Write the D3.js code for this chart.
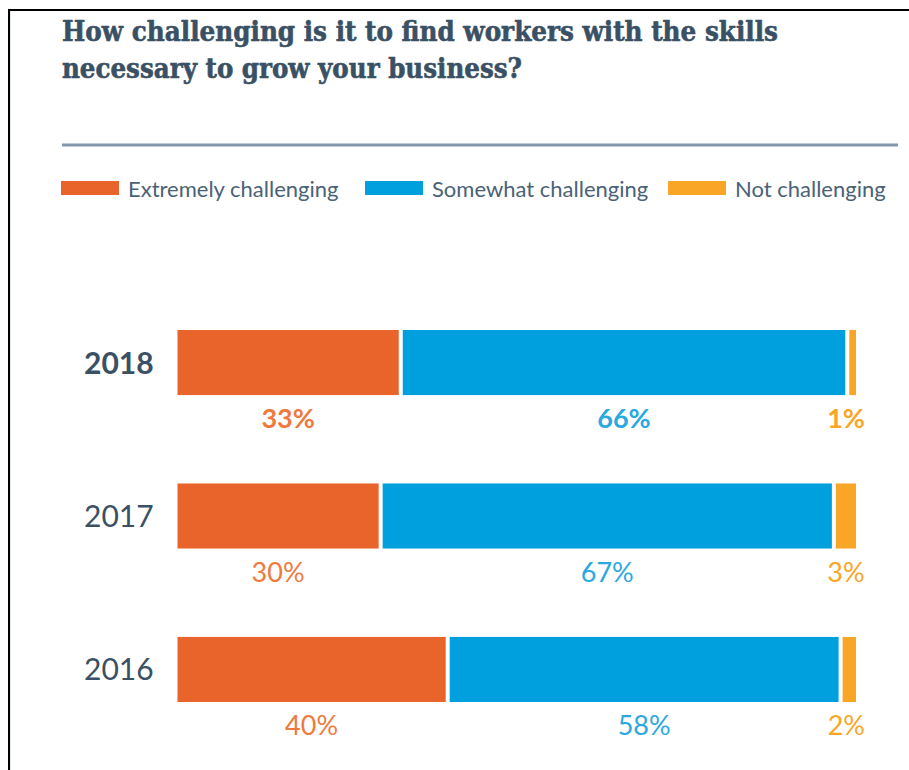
<!DOCTYPE html>
<html>
<head>
<meta charset="utf-8">
<script src="https://cdn.jsdelivr.net/npm/d3@7"></script>
<style>
  body { margin: 0; background: #fff; }
  svg { display: block; }
</style>
</head>
<body>
<svg id="chart" width="909" height="770"></svg>
<script>
// data
const years = ["2018", "2017", "2016"];
const categories = ["Extremely challenging", "Somewhat challenging", "Not challenging"];
const extremely = [33, 30, 40];
const somewhat = [66, 67, 58];
const notChallenging = [1, 3, 2];
const titleLines = ["How challenging is it to find workers with the skills", "necessary to grow your business?"];

const barColors = ["#e8642a", "#00a0df", "#f9a526"];
const labelColors = ["#ee7a3e", "#2aa8e0", "#f9a526"];

var svg = d3.select("#chart");
var width = 909, height = 770;

var barLeft = 177.5, barRight = 856, gap = 4;

var rows = years.map(function(y, i) {
    return {year: y, "Extremely challenging": extremely[i], "Somewhat challenging": somewhat[i], "Not challenging": notChallenging[i]};
});

var stacked = d3.stack().keys(categories)(rows);

var x = d3.scaleLinear()
    .domain([0, 100])
    .range([0, barRight - barLeft - gap * (categories.length - 1)]);

var y = d3.scaleBand()
    .domain(years)
    .range([330, 702])
    .paddingInner(0.576)
    .paddingOuter(0);

// frame
svg.append("line")
    .attr("x1", 8).attr("x2", width).attr("y1", 10).attr("y2", 10)
    .attr("stroke", "#000").attr("stroke-width", 2);
svg.append("line")
    .attr("x1", 9).attr("x2", 9).attr("y1", 9).attr("y2", height)
    .attr("stroke", "#000").attr("stroke-width", 2);
svg.append("line")
    .attr("x1", 10.5).attr("x2", 10.5).attr("y1", 11).attr("y2", height)
    .attr("stroke", "#dfe6ee").attr("stroke-width", 1);

// title
svg.append("g")
    .selectAll("text")
    .data(titleLines)
    .enter()
    .append("text")
    .attr("x", 62)
    .attr("y", function(d, i) { return 41 + i * 37; })
    .attr("font-family", "'DejaVu Serif', serif")
    .attr("font-weight", "bold")
    .attr("font-size", 27)
    .attr("fill", "#3a5064")
    .attr("stroke", "#3a5064")
    .attr("stroke-width", 0.6)
    .attr("textLength", function(d, i) { return i == 0 ? 716 : 460; })
    .attr("lengthAdjust", "spacingAndGlyphs")
    .text(function(d) { return d; });

svg.append("line")
    .attr("x1", 62).attr("x2", 898).attr("y1", 145).attr("y2", 145)
    .attr("stroke", "#8398ad").attr("stroke-width", 3);

// legend
var legendX = [61, 365, 668];
var legend = svg.append("g").classed("legend", true)
    .selectAll("g")
    .data(categories)
    .enter()
    .append("g")
    .attr("transform", function(d, i) { return "translate(" + legendX[i] + ",181)"; });

legend.append("rect")
    .attr("width", 58).attr("height", 14)
    .attr("fill", function(d, i) { return barColors[i]; });

legend.append("text")
    .attr("x", 67)
    .attr("y", 16)
    .attr("font-family", "Lato, sans-serif")
    .attr("font-size", 22)
    .attr("fill", "#4a6276")
    .text(function(d) { return d; });

// year labels
svg.append("g")
    .selectAll("text")
    .data(years)
    .enter()
    .append("text")
    .attr("x", 84)
    .attr("y", function(d) { return y(d) + y.bandwidth() / 2 + 11; })
    .attr("font-family", "Lato, sans-serif")
    .attr("font-size", 30)
    .attr("font-weight", function(d, i) { return i == 0 ? "bold" : "normal"; })
    .attr("fill", "#3a5064")
    .text(function(d) { return d; });

// bars
var series = svg.selectAll(".series")
    .data(stacked)
    .enter()
    .append("g")
    .classed("series", true)
    .attr("fill", function(d, i) { return barColors[i]; });

series.selectAll("rect")
    .data(function(d) { return d.map(function(v) { v.key = d.key; v.index = d.index; return v; }); })
    .enter()
    .append("rect")
    .attr("x", function(d) { return barLeft + x(d[0]) + d.index * gap; })
    .attr("y", function(d) { return y(d.data.year); })
    .attr("width", function(d) { return x(d[1]) - x(d[0]); })
    .attr("height", y.bandwidth());

// percentage labels under each segment
series.selectAll("text")
    .data(function(d) { return d; })
    .enter()
    .append("text")
    .attr("y", function(d) { return y(d.data.year) + y.bandwidth() + 33; })
    .attr("text-anchor", "middle")
    .attr("font-family", "Lato, sans-serif")
    .attr("font-size", 27)
    .attr("font-weight", function(d) { return d.data.year == years[0] ? "bold" : "normal"; })
    .attr("fill", function(d) { return labelColors[d.index]; })
    .text(function(d) { return (d[1] - d[0]) + "%"; })
    .attr("x", function(d) {
        var cx = barLeft + x((d[0] + d[1]) / 2) + d.index * gap;
        var w = this.getComputedTextLength();
        // keep the small last labels from running past the bar end
        if (cx + w / 2 > barRight + 9) {
            cx = barRight + 9 - w / 2;
        }
        return cx;
    });
</script>
</body>
</html>
